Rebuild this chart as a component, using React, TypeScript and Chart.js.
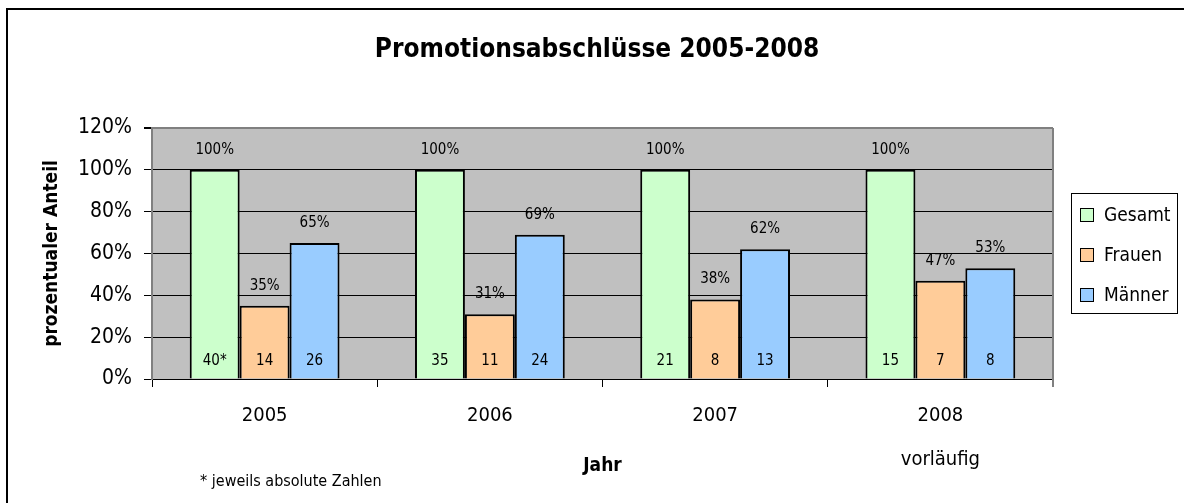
import { useEffect, useRef } from 'react';
import { Chart, registerables } from 'chart.js';

Chart.register(...registerables);

const FONT = "'Liberation Sans Narrow', 'Arial Narrow', 'DejaVu Sans Condensed', sans-serif";

const years: (string | string[])[] = [['2005'], ['2006'], ['2007'], ['2008', 'vorläufig']];
const seriesNames = ['Gesamt', 'Frauen', 'Männer'];
const gesamtPct = [100, 100, 100, 100];
const frauenPct = [35, 31, 38, 47];
const maennerPct = [65, 69, 62, 53];
const gesamtAbs = ['40*', '35', '21', '15'];
const frauenAbs = ['14', '11', '8', '7'];
const maennerAbs = ['26', '24', '13', '8'];
const seriesColors = ['#CCFFCC', '#FFCC99', '#99CCFF'];
const titleText = 'Promotionsabschlüsse 2005-2008';
const yTitle = 'prozentualer Anteil';
const xTitle = 'Jahr';
const footnote = '* jeweils absolute Zahlen';

const absLabels = [gesamtAbs, frauenAbs, maennerAbs];

const decorPlugin = {
  id: 'decor',
  beforeDraw(chart: any) {
    const { ctx, chartArea } = chart;
    ctx.save();
    ctx.fillStyle = '#ffffff';
    ctx.fillRect(0, 0, chart.width, chart.height);
    ctx.fillStyle = '#C0C0C0';
    ctx.fillRect(chartArea.left, chartArea.top, chartArea.right - chartArea.left, chartArea.bottom - chartArea.top);
    ctx.restore();
  },
  beforeDatasetsDraw(chart: any) {
    const { ctx, chartArea } = chart;
    ctx.save();
    ctx.strokeStyle = '#808080';
    ctx.lineWidth = 2;
    ctx.beginPath();
    ctx.moveTo(chartArea.right, chartArea.top);
    ctx.lineTo(chartArea.right, chartArea.bottom + 8);
    ctx.stroke();
    ctx.restore();
  },
  afterDatasetsDraw(chart: any) {
    const { ctx } = chart;
    ctx.save();
    ctx.fillStyle = '#000';
    ctx.textAlign = 'center';
    ctx.textBaseline = 'middle';
    ctx.font = `15px ${FONT}`;
    chart.data.datasets.forEach((ds: any, di: number) => {
      const meta = chart.getDatasetMeta(di);
      meta.data.forEach((bar: any, i: number) => {
        ctx.fillText(`${ds.data[i]}%`, bar.x, bar.y - 20);
        ctx.fillText(absLabels[di][i], bar.x, bar.base - 17);
      });
    });
    ctx.restore();
  },
  afterDraw(chart: any) {
    const { ctx } = chart;
    ctx.save();
    // outer frame
    ctx.fillStyle = '#000';
    ctx.fillRect(6, 8, chart.width - 6, 2);
    ctx.fillRect(6, 8, 2, chart.height - 8);
    // legend
    ctx.strokeStyle = '#000';
    ctx.lineWidth = 1;
    ctx.strokeRect(1071.5, 193.5, 106, 120);
    ctx.font = `19px ${FONT}`;
    ctx.textAlign = 'left';
    ctx.textBaseline = 'middle';
    chart.data.datasets.forEach((ds: any, i: number) => {
      const y = 215 + i * 40;
      ctx.fillStyle = ds.backgroundColor;
      ctx.fillRect(1080.5, y - 6.5, 13, 13);
      ctx.strokeRect(1080.5, y - 6.5, 13, 13);
      ctx.fillStyle = '#000';
      ctx.fillText(ds.label, 1104, y + 1);
    });
    // footnote
    ctx.font = `16px ${FONT}`;
    ctx.fillText(footnote, 200, 482);
    ctx.restore();
  },
};

export default function App() {
  const ref = useRef<HTMLCanvasElement | null>(null);
  useEffect(() => {
    if (!ref.current) return;
    const chart = new Chart(ref.current, {
      type: 'bar',
      data: {
        labels: years,
        datasets: [gesamtPct, frauenPct, maennerPct].map((d, i) => ({
          label: seriesNames[i],
          data: d,
          backgroundColor: seriesColors[i],
          borderColor: '#000',
          borderWidth: 2,
          categoryPercentage: 0.665,
          barPercentage: 1,
          yAxisID: 'y',
        })),
      },
      options: {
        responsive: false,
        animation: false,
        layout: { padding: { top: 0, left: 10, right: 0, bottom: 0 } },
        font: { family: FONT },
        plugins: {
          legend: { display: false },
          tooltip: { enabled: false },
          title: {
            display: true,
            text: titleText,
            color: '#000',
            font: { family: FONT, size: 26, weight: 'bold', lineHeight: 1.2 },
            padding: { top: 34.4, bottom: 62.4 },
          },
        },
        scales: {
          x: {
            offset: true,
            grid: { drawOnChartArea: false, drawTicks: true, tickLength: 8, tickColor: '#000', offset: true },
            border: { color: '#000', width: 1 },
            ticks: { color: '#000', font: { family: FONT, size: 20, lineHeight: 2.2 }, padding: 7, maxRotation: 0 },
            title: {
              display: true,
              text: xTitle,
              color: '#000',
              font: { family: FONT, size: 19, weight: 'bold', lineHeight: 1.2 },
              padding: { top: 0, bottom: 25.6 },
            },
            afterFit(scale: any) {
              scale.height = 124;
            },
          },
          y: {
            min: 0,
            max: 120,
            ticks: {
              stepSize: 20,
              color: '#000',
              font: { family: FONT, size: 21 },
              padding: 12,
              callback: (v: any) => `${v}%`,
            },
            grid: {
              color: (c: any) => (c.tick && c.tick.value === 120 ? '#808080' : '#000'),
              lineWidth: (c: any) => (c.tick && c.tick.value === 120 ? 2 : 1),
              tickColor: '#000',
              tickLength: 8,
            },
            border: { color: '#808080', width: 2 },
            title: {
              display: true,
              text: yTitle,
              color: '#000',
              font: { family: FONT, size: 19, weight: 'bold', lineHeight: 1.2 },
              padding: { top: 30.6, bottom: 0 },
            },
            afterFit(scale: any) {
              scale.width = 142;
            },
          },
          legendSpace: {
            type: 'linear',
            position: 'right',
            display: true,
            grid: { display: false, drawOnChartArea: false },
            border: { display: false },
            ticks: { display: false },
            afterFit(scale: any) {
              scale.width = 131;
            },
          },
        },
      } as any,
      plugins: [decorPlugin],
    });
    return () => chart.destroy();
  }, []);
  return (
    <div style={{ position: 'absolute', left: 0, top: 0, width: 1184, height: 503 }}>
      <canvas ref={ref} width={1184} height={503} style={{ display: 'block' }} />
    </div>
  );
}
